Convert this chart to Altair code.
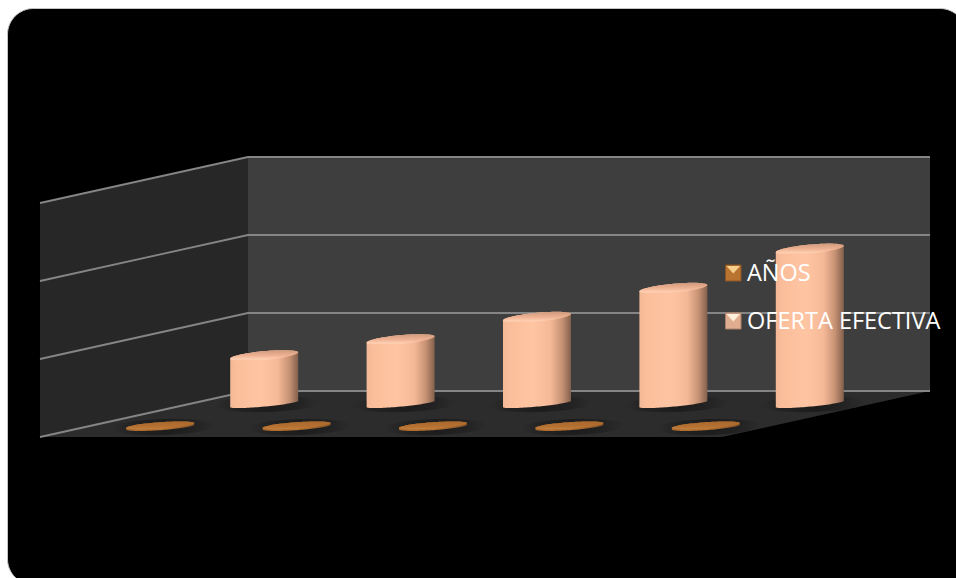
import math
import altair as alt
import pandas as pd

# Chart data
categories = ["2006", "2007", "2008", "2009", "2010"]
anos = [2006, 2007, 2008, 2009, 2010]
oferta_efectiva = [62200, 82700, 111300, 148500, 198700]
series_names = ["AÑOS", "OFERTA EFECTIVA"]
gridlines = [0, 100000, 200000, 300000]

# 3D box: front-left floor corner, category run and depth run, in canvas units
ORIGIN = (40.0, 437.0)
RUN_X = 682.0
DEPTH = (208.0, -46.0)
UNITS_PER_PX = 100000 / 78.0
RADIUS_X = 34.0
# Per series: depth in the box, base drop, cap radius, base radius and ellipse tilt
SERIES_SHAPE = {
    "AÑOS": (0.25, 1.5, 3.2, 3.2, 0.07),
    "OFERTA EFECTIVA": (0.75, 1.5, 4.4, 2.6, 0.093),
}


def project(pos, depth, value):
    """Category position (0-1), depth (0-1) and value to canvas position."""
    return (
        ORIGIN[0] + pos * RUN_X + depth * DEPTH[0],
        ORIGIN[1] + depth * DEPTH[1] - value / UNITS_PER_PX,
    )


def outline(cx, cy, rx, ry, tilt, steps=48):
    """Upper and lower edge of a tilted ellipse, sampled along x."""
    rows = []
    for k in range(steps + 1):
        u = -math.cos(math.pi * k / steps)
        mid = cy - tilt * rx * u
        half = ry * math.sqrt(max(0.0, 1 - u * u))
        rows.append((cx + rx * u, mid - half, mid + half))
    return rows


def cylinder_rows(values, name):
    body, cap, shadow = [], [], []
    depth, drop, cap_ry, base_ry, tilt = SERIES_SHAPE[name]
    for i, v in enumerate(values):
        pos = (i + 0.5) / len(values)
        bx, by = project(pos, depth, 0)
        tx, ty = project(pos, depth, v)
        by += drop
        ty += drop
        low = outline(bx, by, RADIUS_X, base_ry, tilt)
        top = outline(tx, ty, RADIUS_X, cap_ry, tilt)
        for (x, t, _), (_, _, b) in zip(top, low):
            body.append({"id": i, "x": x, "y": t, "y2": b})
        for x, t, b in top:
            cap.append({"id": i, "x": x, "y": t, "y2": b})
        for x, t, b in outline(bx + 3, by, 52, 8, 0.03):
            shadow.append({"id": i, "x": x, "y": t, "y2": b})
    return pd.DataFrame(body), pd.DataFrame(cap), pd.DataFrame(shadow)


XS = alt.Scale(domain=[0, 956], range=[0, 956], nice=False, zero=False)
YS = alt.Scale(domain=[0, 578], range=[0, 578], nice=False, zero=False)
X = alt.X("x:Q", scale=XS, axis=None)
Y = alt.Y("y:Q", scale=YS, axis=None)
Y2 = alt.Y2("y2:Q")


def stops(*pairs):
    return [alt.GradientStop(color=c, offset=o) for o, c in pairs]


def linear(x2, y2, *pairs):
    return alt.LinearGradient(gradient="linear", x1=0, y1=0, x2=x2, y2=y2, stops=stops(*pairs))


# Black card with rounded corners
card = alt.Chart(pd.DataFrame({"x": [7.5], "x2": [966], "y": [8.5], "y2": [585]})).mark_rect(
    color="#000000", cornerRadius=26, stroke="#c4c4c4", strokeWidth=1
).encode(x=X, x2="x2:Q", y=Y, y2=Y2)

# Walls and floor of the box
p = project
top_value = gridlines[-1]
back = pd.DataFrame([
    {"x": p(0, 1, 0)[0], "y": p(0, 1, top_value)[1], "y2": p(0, 1, 0)[1]},
    {"x": p(1, 1, 0)[0], "y": p(1, 1, top_value)[1], "y2": p(1, 1, 0)[1]},
])
side = pd.DataFrame([
    {"x": p(0, 0, 0)[0], "y": p(0, 0, top_value)[1], "y2": p(0, 0, 0)[1]},
    {"x": p(0, 1, 0)[0], "y": p(0, 1, top_value)[1], "y2": p(0, 0, 0)[1]},
])
floor = pd.DataFrame([
    {"x": p(0, 0, 0)[0], "y": p(0, 0, 0)[1], "y2": p(0, 0, 0)[1]},
    {"x": p(0, 1, 0)[0], "y": p(0, 1, 0)[1], "y2": p(0, 0, 0)[1]},
    {"x": p(1, 0, 0)[0], "y": p(1, 1, 0)[1], "y2": p(1, 0, 0)[1]},
    {"x": p(1, 1, 0)[0], "y": p(1, 1, 0)[1], "y2": p(1, 1, 0)[1]},
])
back_wall = alt.Chart(back).mark_area(color="#3e3e3e", interpolate="linear").encode(x=X, y=Y, y2=Y2)
side_wall = alt.Chart(side).mark_area(color="#272727", interpolate="linear").encode(x=X, y=Y, y2=Y2)
floor_mark = alt.Chart(floor).mark_area(color="#2c2c2c", interpolate="linear").encode(x=X, y=Y, y2=Y2)

# Gridlines run along the side wall and across the back wall
grid_rows = []
for v in gridlines:
    for pos, depth in [(0, 0), (0, 1), (1, 1)]:
        x, y = p(pos, depth, v)
        grid_rows.append({"v": v, "x": x, "y": y, "o": len(grid_rows)})
grid = alt.Chart(pd.DataFrame(grid_rows)).mark_line(color="#858585", strokeWidth=1.8).encode(
    x=X, y=Y, detail="v:N", order="o:Q"
)

shadow_fill = alt.RadialGradient(
    gradient="radial", x1=0.5, y1=0.5, x2=0.5, y2=0.5, r1=0.05, r2=0.5,
    stops=stops((0, "#1d1d1d"), (0.55, "#232323"), (1, "#2c2c2c")),
)
peach_body = linear(
    1, 0,
    (0, "#f3b896"), (0.1, "#fbbe9b"), (0.45, "#ffc5a3"), (0.7, "#f5b997"),
    (0.87, "#c69274"), (1, "#83604c"),
)
peach_cap = linear(
    0, 1,
    (0, "#cf9a7e"), (0.5, "#eeb292"), (0.85, "#ffd0b2"), (1, "#fbbe9b"),
)
copper_body = linear(1, 0, (0, "#a8682c"), (0.5, "#b87232"), (1, "#8a5626"))
copper_cap = linear(0, 1, (0, "#a9692d"), (0.6, "#b47031"), (1, "#c2803f"))


def cylinders(values, name, body_fill, cap_fill):
    body, cap, shadow = cylinder_rows(values, name)
    return [
        alt.Chart(shadow).mark_area(color=shadow_fill).encode(x=X, y=Y, y2=Y2, detail="id:N"),
        alt.Chart(body).mark_area(color=body_fill).encode(x=X, y=Y, y2=Y2, detail="id:N"),
        alt.Chart(cap).mark_area(color=cap_fill).encode(x=X, y=Y, y2=Y2, detail="id:N"),
    ]


# Legend: bevelled swatches with the series names beside them
legend_y = [273, 321]
swatch_fill = ["#b9752f", "#e0ad90"]
swatch_edge = ["#8a5524", "#ad8068"]
swatch_tip = ["#f8cf8c", "#fff0dc"]
SWATCH_LEFT, SWATCH_RIGHT, SWATCH_HALF = 725.5, 741.0, 8.0
legend = pd.DataFrame({
    "name": series_names,
    "y": [v - SWATCH_HALF for v in legend_y],
    "y2": [v + SWATCH_HALF for v in legend_y],
    "yc": legend_y,
    "x": [SWATCH_LEFT] * 2,
    "x2": [SWATCH_RIGHT] * 2,
    "x_text": [747] * 2,
    "fill": swatch_fill,
    "edge": swatch_edge,
})
swatches = alt.Chart(legend).mark_rect(strokeWidth=1).encode(
    x=X, x2="x2:Q", y=Y, y2=Y2,
    color=alt.Color("fill:N", scale=None),
    stroke=alt.Stroke("edge:N", scale=None),
)
tip_rows = []
for i, yc in enumerate(legend_y):
    top_edge = yc - SWATCH_HALF + 1
    mid = (SWATCH_LEFT + SWATCH_RIGHT) / 2
    tip_rows += [
        {"id": i, "tip": swatch_tip[i], "x": SWATCH_LEFT + 1, "y": top_edge, "y2": top_edge},
        {"id": i, "tip": swatch_tip[i], "x": mid, "y": top_edge, "y2": top_edge + 7.5},
        {"id": i, "tip": swatch_tip[i], "x": SWATCH_RIGHT - 1, "y": top_edge, "y2": top_edge},
    ]
tips = alt.Chart(pd.DataFrame(tip_rows)).mark_area(interpolate="linear").encode(
    x=X, y=Y, y2=Y2, detail="id:N", color=alt.Color("tip:N", scale=None)
)
labels = alt.Chart(legend).mark_text(
    align="left", baseline="middle", font="Open Sans", fontSize=23.5, color="#ffffff", dy=1
).encode(x=alt.X("x_text:Q", scale=XS, axis=None), y=alt.Y("yc:Q", scale=YS, axis=None), text="name:N")

layers = [card, back_wall, side_wall, floor_mark, grid]
layers += cylinders(oferta_efectiva, series_names[1], peach_body, peach_cap)
layers += cylinders(anos, series_names[0], copper_body, copper_cap)
layers += [swatches, tips, labels]

chart = alt.layer(*layers).properties(
    width=956,
    height=578,
    padding=0,
    background="#ffffff",
    autosize=alt.AutoSizeParams(type="none"),
).configure_view(stroke=None)

chart.save("out.html", embed_options={"renderer": "svg", "actions": False})
